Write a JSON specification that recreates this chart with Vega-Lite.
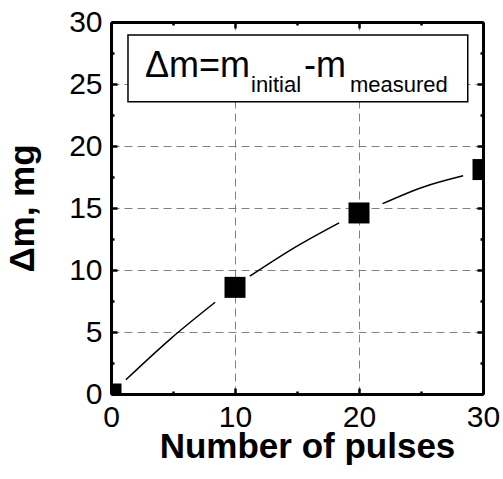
{
  "$schema": "https://vega.github.io/schema/vega-lite/v6.json",
  "width": 372,
  "height": 372,
  "autosize": "none",
  "padding": {"left": 111, "top": 22, "right": 20, "bottom": 85},
  "background": "white",
  "config": {"view": {"stroke": null}, "font": "Liberation Sans"},
  "datasets": {
    "points": [
      {"pulses": 0, "dm": 0},
      {"pulses": 10, "dm": 8.6},
      {"pulses": 20, "dm": 14.6},
      {"pulses": 30, "dm": 18.1}
    ],
    "fit": [
      {"seg": 1, "pulses": 1.2, "dm": 1.15},
      {"seg": 1, "pulses": 4.8, "dm": 4.45},
      {"seg": 1, "pulses": 8.4, "dm": 7.4},
      {"seg": 2, "pulses": 11.2, "dm": 9.5},
      {"seg": 2, "pulses": 14.8, "dm": 11.8},
      {"seg": 2, "pulses": 18.4, "dm": 13.8},
      {"seg": 3, "pulses": 21.9, "dm": 15.35},
      {"seg": 3, "pulses": 25.2, "dm": 16.7},
      {"seg": 3, "pulses": 28.4, "dm": 17.6}
    ],
    "box": [{"x1": 1.37, "x2": 28.77, "y1": 23.57, "y2": 28.95}],
    "mainText": [
      {"label": "Δm=m", "px": 2.74, "py": 25.59},
      {"label": "-m", "px": 15.56, "py": 25.59}
    ],
    "subText": [
      {"label": "initial", "px": 11.29, "py": 24.38},
      {"label": "measured", "px": 19.27, "py": 24.38}
    ]
  },
  "resolve": {"axis": {"x": "independent", "y": "independent"}},
  "layer": [
    {
      "data": {"name": "box"},
      "mark": {"type": "rect", "fill": "white", "stroke": "black", "strokeWidth": 1.5},
      "encoding": {
        "x": {"field": "x1", "type": "quantitative", "scale": {"domain": [0, 30], "nice": false, "zero": false},
          "axis": {"orient": "bottom", "values": [5, 15, 25], "labels": false, "title": null, "domain": false, "grid": false, "tickSize": -3, "tickWidth": 2.5, "tickColor": "black"}},
        "x2": {"field": "x2"},
        "y": {"field": "y1", "type": "quantitative", "scale": {"domain": [0, 30], "nice": false, "zero": false},
          "axis": {"orient": "left", "values": [2.5, 7.5, 12.5, 17.5, 22.5, 27.5], "labels": false, "title": null, "domain": false, "grid": false, "tickSize": -3, "tickWidth": 2.5, "tickColor": "black"}},
        "y2": {"field": "y2"}
      }
    },
    {
      "data": {"name": "fit"},
      "mark": {"type": "line", "color": "black", "strokeWidth": 1.5, "interpolate": "monotone"},
      "encoding": {
        "x": {"field": "pulses", "type": "quantitative", "scale": {"domain": [0, 30], "nice": false, "zero": false},
          "axis": {"orient": "top", "values": [0, 10, 20, 30], "labels": false, "title": null, "grid": false, "tickSize": -6, "tickWidth": 2.5, "tickColor": "black", "domainWidth": 3, "domainColor": "black"}},
        "y": {"field": "dm", "type": "quantitative", "scale": {"domain": [0, 30], "nice": false, "zero": false},
          "axis": {"orient": "right", "values": [0, 5, 10, 15, 20, 25, 30], "labels": false, "title": null, "grid": false, "tickSize": -6, "tickWidth": 2.5, "tickColor": "black", "domainWidth": 3, "domainColor": "black"}},
        "detail": {"field": "seg", "type": "nominal"}
      }
    },
    {
      "data": {"name": "points"},
      "mark": {"type": "square", "size": 441, "color": "black", "opacity": 1, "clip": true},
      "encoding": {
        "x": {"field": "pulses", "type": "quantitative", "scale": {"domain": [0, 30], "nice": false, "zero": false},
          "axis": {"orient": "bottom", "values": [0, 10, 20, 30], "format": "d", "title": "Number of pulses",
            "titleFontSize": 35, "titleFontWeight": "bold", "titleColor": "black", "titleFont": "Liberation Sans",
            "titleX": 196, "titleY": 63, "titleAlign": "center", "titleBaseline": "alphabetic",
            "labelFont": "Liberation Sans", "labelFontSize": 30, "labelColor": "black", "labelPadding": 14, "labelFlush": false, "labelOverlap": false, "labelBaseline": "top",
            "tickSize": -6, "tickWidth": 2.5, "tickColor": "black", "domainWidth": 3, "domainColor": "black",
            "grid": true, "gridDash": [8, 5], "gridColor": "#808080", "gridWidth": 1, "gridOpacity": 1}},
        "y": {"field": "dm", "type": "quantitative", "scale": {"domain": [0, 30], "nice": false, "zero": false},
          "axis": {"orient": "left", "values": [0, 5, 10, 15, 20, 25, 30], "format": "d", "title": "Δm, mg",
            "titleFontSize": 35, "titleFontWeight": "bold", "titleColor": "black", "titleFont": "Liberation Sans",
            "titleAngle": -90, "titleX": -78, "titleY": 186, "titleAlign": "center", "titleBaseline": "alphabetic",
            "labelFont": "Liberation Sans", "labelFontSize": 30, "labelColor": "black", "labelPadding": 15, "labelFlush": false, "labelOverlap": false, "labelBaseline": "middle",
            "tickSize": -6, "tickWidth": 2.5, "tickColor": "black", "domainWidth": 3, "domainColor": "black",
            "grid": true, "gridDash": [8, 5], "gridColor": "#808080", "gridWidth": 1, "gridOpacity": 1}}
      }
    },
    {
      "data": {"name": "mainText"},
      "mark": {"type": "text", "align": "left", "baseline": "alphabetic", "fontSize": 36, "font": "Liberation Sans", "color": "black"},
      "encoding": {
        "x": {"field": "px", "type": "quantitative", "scale": {"domain": [0, 30], "nice": false, "zero": false},
          "axis": {"orient": "top", "values": [5, 15, 25], "labels": false, "title": null, "domain": false, "grid": false, "tickSize": -3, "tickWidth": 2.5, "tickColor": "black"}},
        "y": {"field": "py", "type": "quantitative", "scale": {"domain": [0, 30], "nice": false, "zero": false},
          "axis": {"orient": "right", "values": [2.5, 7.5, 12.5, 17.5, 22.5, 27.5], "labels": false, "title": null, "domain": false, "grid": false, "tickSize": -3, "tickWidth": 2.5, "tickColor": "black"}},
        "text": {"field": "label", "type": "nominal"}
      }
    },
    {
      "data": {"name": "subText"},
      "mark": {"type": "text", "align": "left", "baseline": "alphabetic", "fontSize": 22, "font": "Liberation Sans", "color": "black"},
      "encoding": {
        "x": {"field": "px", "type": "quantitative", "scale": {"domain": [0, 30], "nice": false, "zero": false}, "axis": null},
        "y": {"field": "py", "type": "quantitative", "scale": {"domain": [0, 30], "nice": false, "zero": false}, "axis": null},
        "text": {"field": "label", "type": "nominal"}
      }
    }
  ]
}
